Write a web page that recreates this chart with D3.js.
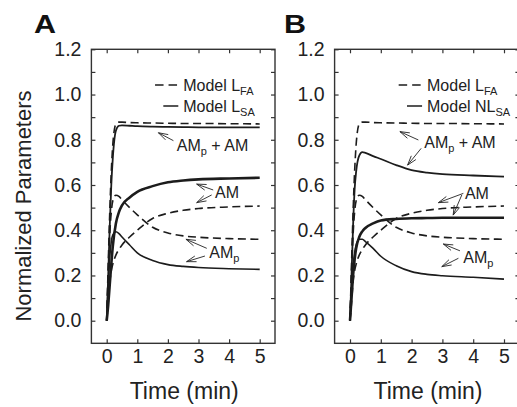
<!DOCTYPE html>
<html><head><meta charset="utf-8">
<script src="https://cdn.jsdelivr.net/npm/d3@7"></script>
<style>
html,body{margin:0;padding:0;background:#fff;}
svg{display:block;font-family:"Liberation Sans",Arial,Helvetica,sans-serif;}
</style></head>
<body><svg id="c" width="517" height="407"></svg>
<script>
// ---- data ----
const time = [0, 0.05, 0.1, 0.15, 0.2, 0.3, 0.4, 0.5, 0.75, 1, 1.5, 2, 2.5, 3, 4, 5];
// Model L_FA (dashed, both panels)
const faTotal = [0, 0.25, 0.48, 0.66, 0.78, 0.87, 0.878, 0.878, 0.876, 0.875, 0.874, 0.873, 0.872, 0.872, 0.871, 0.87];
const faAMp   = [0, 0.2, 0.38, 0.48, 0.53, 0.555, 0.55, 0.535, 0.5, 0.468, 0.413, 0.388, 0.375, 0.369, 0.363, 0.36];
const faAM    = [0, 0.08, 0.17, 0.22, 0.25, 0.29, 0.315, 0.335, 0.37, 0.4, 0.452, 0.475, 0.488, 0.496, 0.503, 0.507];
// Panel A: Model L_SA (solid)
const saTotal = [0, 0.2, 0.42, 0.6, 0.72, 0.84, 0.862, 0.864, 0.862, 0.86, 0.858, 0.857, 0.856, 0.855, 0.855, 0.855];
const saAMp   = [0, 0.15, 0.28, 0.35, 0.38, 0.393, 0.385, 0.37, 0.335, 0.3, 0.266, 0.248, 0.24, 0.235, 0.23, 0.227];
const saAM    = [0, 0.07, 0.16, 0.25, 0.33, 0.43, 0.48, 0.51, 0.545, 0.57, 0.595, 0.612, 0.62, 0.625, 0.629, 0.632];
// Panel B: Model NL_SA (solid)
const nlTotal = [0, 0.2, 0.42, 0.58, 0.66, 0.73, 0.745, 0.742, 0.728, 0.715, 0.688, 0.666, 0.655, 0.648, 0.642, 0.637];
const nlAMp   = [0, 0.13, 0.24, 0.3, 0.335, 0.36, 0.36, 0.35, 0.32, 0.285, 0.243, 0.217, 0.205, 0.199, 0.192, 0.184];
const nlAM    = [0, 0.1, 0.2, 0.27, 0.32, 0.37, 0.395, 0.41, 0.43, 0.443, 0.45, 0.453, 0.454, 0.455, 0.455, 0.455];

const xTicks = [0, 1, 2, 3, 4, 5];
const yTicks = [0, 0.1, 0.2, 0.3, 0.4, 0.5, 0.6, 0.7, 0.8, 0.9, 1.0, 1.1, 1.2];
const yLabelTicks = [0, 0.2, 0.4, 0.6, 0.8, 1.0, 1.2];

// annotations: [text, sub, rest, tx, ty, arrows [[tailT,tailV,tipT,tipV],...]]
const annA = [
  ["AM", "p", " + AM", 2.29, 0.752, [[2.18, 0.796, 1.69, 0.831]]],
  ["AM", "", "", 3.54, 0.541, [[3.48, 0.578, 2.94, 0.604], [3.43, 0.556, 2.94, 0.522]]],
  ["AM", "p", "", 3.35, 0.276, [[3.27, 0.32, 2.59, 0.36], [3.21, 0.286, 2.61, 0.261]]]
];
const annB = [
  ["AM", "p", " + AM", 2.41, 0.762, [[2.22, 0.799, 1.62, 0.836], [2.31, 0.762, 1.87, 0.688]]],
  ["AM", "", "", 3.73, 0.537, [[3.68, 0.563, 2.87, 0.522], [3.63, 0.556, 3.35, 0.467]]],
  ["AM", "p", "", 3.68, 0.256, [[3.57, 0.309, 3.03, 0.339], [3.52, 0.276, 2.98, 0.239]]]
];

const ink = "#1c1c1c";
const svg = d3.select("#c");
const y = d3.scaleLinear().domain([0, 1.2]).range([320.7, 49.3]);
const yBottom = y(-0.1), yTop = y(1.2);

function panel(label, range, series, legend2, ann) {
  const x = d3.scaleLinear().domain([-0.5, 5.5]).range(range);
  const g = svg.append("g");
  // frame
  g.append("rect").attr("x", x(-0.5)).attr("y", yTop)
    .attr("width", x(5.5) - x(-0.5)).attr("height", yBottom - yTop)
    .attr("fill", "none").attr("stroke", "#333").attr("stroke-width", 1.4);
  // left axis
  const la = g.append("g").attr("transform", `translate(${x(-0.5)},0)`)
    .call(d3.axisLeft(y).tickValues(yTicks).tickSize(-4).tickPadding(10)
      .tickFormat(d => yLabelTicks.some(v => Math.abs(v - d) < 1e-9) ? d.toFixed(1) : ""));
  // right axis
  const ra = g.append("g").attr("transform", `translate(${x(5.5)},0)`)
    .call(d3.axisRight(y).tickValues(yTicks).tickSize(-4).tickFormat(""));
  // bottom axis
  const ba = g.append("g").attr("transform", `translate(0,${yBottom})`)
    .call(d3.axisBottom(x).tickValues(xTicks).tickSize(-4).tickPadding(6).tickFormat(d3.format("d")));
  // top axis
  const ta = g.append("g").attr("transform", `translate(0,${yTop})`)
    .call(d3.axisTop(x).tickValues(xTicks).tickSize(-4).tickFormat(""));
  [la, ra, ba, ta].forEach(a => {
    a.select(".domain").remove();
    a.selectAll("line").attr("stroke", "#333").attr("stroke-width", 1.2);
    a.selectAll("text").attr("fill", "#222").style("font-size", "19.5px")
      .style("font-family", "Liberation Sans, Arial, sans-serif");
  });
  // x title
  g.append("text").attr("x", x(2.5) + 1).attr("y", 399).attr("text-anchor", "middle")
    .attr("fill", "#222").style("font-size", "23px").text("Time (min)");
  // panel label
  g.append("text").attr("transform", `translate(${label === "A" ? 34 : 284},33) scale(1.22,1)`)
    .attr("fill", "#111").style("font-size", "25px").style("font-weight", "bold").text(label);

  // lines
  const line = vals => d3.line().x((d, i) => x(time[i])).y(d => y(d)).curve(d3.curveMonotoneX)(vals);
  series.forEach(s => {
    g.append("path").attr("d", line(s.v)).attr("fill", "none").attr("stroke", ink)
      .attr("stroke-width", s.w).attr("stroke-dasharray", s.dash ? "8,4.5" : null)
      .attr("stroke-linejoin", "round");
  });

  // legend
  const lx0 = x(1.58), lx1 = x(2.34), ltx = x(2.5);
  g.append("line").attr("x1", lx0).attr("x2", lx1).attr("y1", 85).attr("y2", 85)
    .attr("stroke", ink).attr("stroke-width", 1.5).attr("stroke-dasharray", "8.5,5");
  g.append("line").attr("x1", x(1.85)).attr("x2", lx1).attr("y1", 106).attr("y2", 106)
    .attr("stroke", ink).attr("stroke-width", 1.5);
  const leg = [["Model L", "FA", 91], [legend2, "SA", 112]];
  leg.forEach(([t, s, by]) => {
    const tx = g.append("text").attr("x", ltx).attr("y", by).attr("fill", "#222").style("font-size", "16px");
    tx.append("tspan").text(t);
    tx.append("tspan").attr("dy", 4).style("font-size", "11px").text(s);
  });

  // annotations
  ann.forEach(([t, sub, rest, tt, tv, arrows]) => {
    const tx = g.append("text").attr("x", x(tt)).attr("y", y(tv)).attr("fill", "#222").style("font-size", "16px");
    tx.append("tspan").text(t);
    if (sub) tx.append("tspan").attr("dy", 4).style("font-size", "11px").text(sub);
    if (rest) tx.append("tspan").attr("dy", -4).text(rest);
    arrows.forEach(([a, b, c, d]) => {
      const x1 = x(a), y1 = y(b), x2 = x(c), y2 = y(d);
      const ang = Math.atan2(y1 - y2, x1 - x2);
      const L = 10, sp = 0.3;
      const p1 = [x2 + L * Math.cos(ang + sp), y2 + L * Math.sin(ang + sp)];
      const p2 = [x2 + L * Math.cos(ang - sp), y2 + L * Math.sin(ang - sp)];
      g.append("path").attr("d", `M${x1},${y1}L${x2},${y2}M${p1[0]},${p1[1]}L${x2},${y2}L${p2[0]},${p2[1]}`)
        .attr("fill", "none").attr("stroke", "#222").attr("stroke-width", 0.9);
    });
  });
}

panel("A", [91.4, 275], [
  { v: faTotal, w: 1.6, dash: true }, { v: faAMp, w: 1.6, dash: true }, { v: faAM, w: 1.6, dash: true },
  { v: saTotal, w: 1.8 }, { v: saAMp, w: 1.6 }, { v: saAM, w: 2.6 }
], "Model L", annA);
panel("B", [334.6, 519.4], [
  { v: faTotal, w: 1.6, dash: true }, { v: faAMp, w: 1.6, dash: true }, { v: faAM, w: 1.6, dash: true },
  { v: nlTotal, w: 1.8 }, { v: nlAMp, w: 1.6 }, { v: nlAM, w: 2.6 }
], "Model NL", annB);

// y title
svg.append("text").attr("transform", "translate(31,206) rotate(-90)").attr("text-anchor", "middle")
  .attr("fill", "#222").style("font-size", "22px").text("Normalized Parameters");
</script></body></html>
